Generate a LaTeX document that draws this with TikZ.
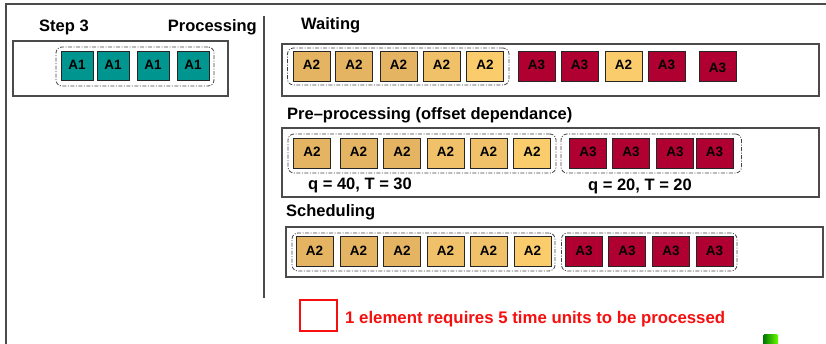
\documentclass[tikz,border=0pt]{standalone}
\usepackage{fontspec}
\setmainfont{Liberation Sans}
\usetikzlibrary{fit}

\definecolor{tealA}{RGB}{0,150,143}
\definecolor{tanA}{RGB}{228,180,98}
\definecolor{tanB}{RGB}{240,193,104}
\definecolor{tanC}{RGB}{250,204,108}
\definecolor{redA}{RGB}{176,0,50}
\definecolor{frameg}{RGB}{75,75,75}
\definecolor{keyred}{RGB}{245,15,15}

\begin{document}
\begin{tikzpicture}[x=1pt, y=-1pt,
    elem/.style={draw=black!85, line width=1pt, minimum width=37pt,
                 minimum height=30pt, inner sep=0pt, text height=6.5pt,
                 text depth=0pt, font=\fontsize{13.5}{14}\selectfont\bfseries},
    a1/.style={elem, fill=tealA, minimum width=32pt, minimum height=29pt},
    grp/.style={draw=black!75, line width=0.8pt, rounded corners=6pt,
                dash pattern=on 4pt off 1.5pt on 1pt off 1.5pt,
                inner xsep=5pt, inner ysep=3pt},
    phase/.style={draw=frameg, line width=1.2pt},
    hdr/.style={font=\fontsize{16.5}{18}\selectfont\bfseries, inner sep=0pt,
                anchor=base west},
    qt/.style={font=\fontsize{16.5}{18}\selectfont\bfseries, inner sep=0pt,
               anchor=base}
]
\useasboundingbox (0,0) rectangle (826,344);

% Rahmen
\draw[frameg, line width=1.5pt] (6,344) -- (6,4) -- (826,4);
\draw[frameg, line width=1.5pt] (264,16) -- (264,298);

% Step 3 / Processing
\node[hdr] (step) at (39,32) {Step 3};
\node[hdr, anchor=base east] (proc) at (257,32) {Processing};
\draw[phase] (13,41) rectangle (228,96);
\foreach \n/\x in {q1/77, q2/113, q3/153, q4/193}
    \node[a1] (\n) at (\x,66.5) {A1};
\node[grp, inner xsep=4.5pt, inner ysep=4.5pt, fit=(q1)(q4)] (gq) {};

% Waiting
\node[hdr] (wait) at (301,30) {Waiting};
\draw[phase] (282,44) rectangle (819,96);
\foreach \n/\x/\c/\t in {w1/311.5/tanA/A2, w2/354/tanA/A2, w3/398.5/tanA/A2,
                         w4/441.5/tanB/A2, w5/485/tanC/A2, w6/536.5/redA/A3,
                         w7/579.5/redA/A3, w8/623.5/tanC/A2, w9/666.5/redA/A3}
    \node[elem, fill=\c] (\n) at (\x,66.5) {\t};
\node[elem, fill=redA] (w10) at (717.5,66.5) {\raisebox{-3pt}{A3}};
\node[grp, fit=(w1)(w5)] (gw) {};

% Pre-processing
\node[hdr] (pre) at (287,120) {Pre--processing (offset dependance)};
\draw[phase] (282,128) rectangle (819,197);
\foreach \n/\x/\c in {p1/312/tanA, p2/358.5/tanA, p3/402/tanA,
                      p4/445.5/tanB, p5/488.5/tanB, p6/532/tanC}
    \node[elem, fill=\c] (\n) at (\x,153.5) {A2};
\foreach \n/\x in {r1/588, r2/631, r3/675, r4/714.5}
    \node[elem, fill=redA] (\n) at (\x,153.5) {A3};
\node[grp, inner ysep=4pt, fit=(p1)(p6)] (gp) {};
\node[grp, inner xsep=8pt, inner ysep=4pt, fit=(r1)(r4)] (gr) {};
\node[qt] (qa) at (360,190) {q = 40, T = 30};
\node[qt] (qb) at (640,191) {q = 20, T = 20};

% Scheduling
\node[hdr] (sched) at (286,217) {Scheduling};
\draw[phase] (286,227) rectangle (823,277);
\foreach \n/\x/\c in {s1/314.5/tanA, s2/358.5/tanA, s3/402/tanA,
                      s4/445.5/tanB, s5/488.5/tanB, s6/532.5/tanC}
    \node[elem, fill=\c] (\n) at (\x,252) {A2};
\foreach \n/\x in {t1/584, t2/627, t3/671, t4/714.5}
    \node[elem, fill=redA] (\n) at (\x,252) {A3};
\node[grp, inner xsep=3.5pt, inner ysep=3.5pt, fit=(s1)(s6)] (gs) {};
\node[grp, inner xsep=3.5pt, inner ysep=3.5pt, fit=(t1)(t4)] (gt) {};

% Legende
\node[draw=keyred, line width=1.2pt, minimum width=37pt, minimum height=31pt,
      inner sep=0pt] (key) at (318.5,315.5) {};
\node[hdr, text=keyred, font=\fontsize{16.8}{18}\selectfont\bfseries] (keytxt)
    at (345,323) {1 element requires 5 time units to be processed};

% Logo
\shade[left color=green!45!black, right color=green!60!yellow, rounded corners=1.5pt]
    (763,334) rectangle (778,346);

\end{tikzpicture}
\end{document}
